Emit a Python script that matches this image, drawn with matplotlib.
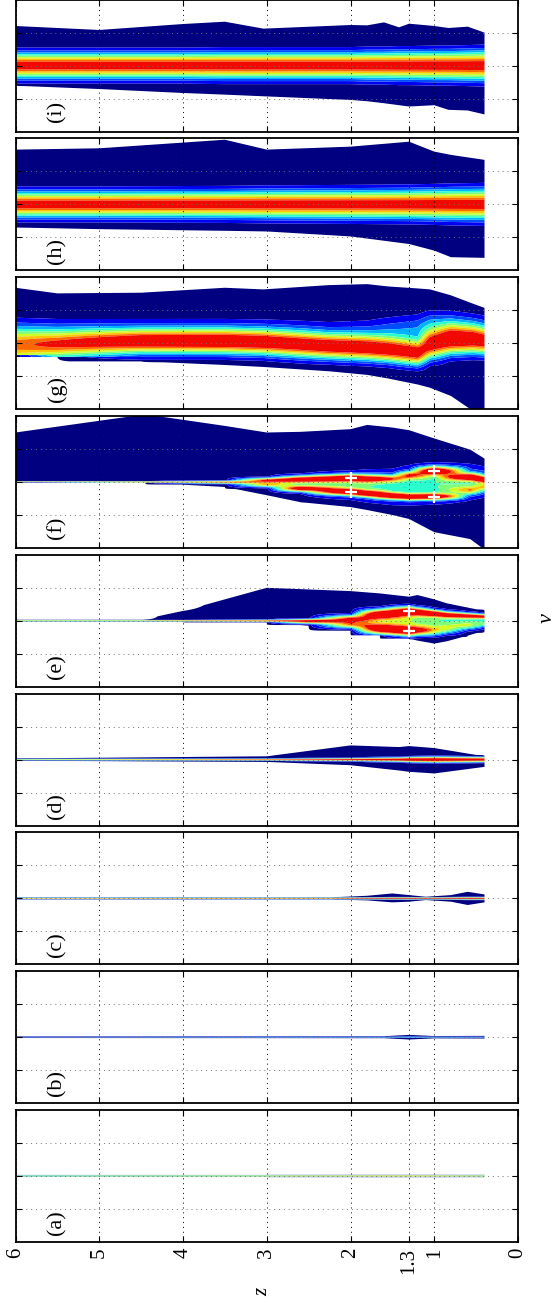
import numpy as np
import matplotlib
matplotlib.use("Agg")
import matplotlib.pyplot as plt

plt.rcParams["font.family"] = ["Liberation Serif", "DejaVu Serif"]

# ---------- z stations, envelope edges (nu) and ridge parameters per panel ----------
# each ridge: (centre, width, amplitude) at the stations
# panel (a)
za = [6.0, 3.0, 1.3, 0.4]
top_a = [0.03, 0.03, 0.035, 0.03]
bot_a = [-0.03, -0.03, -0.035, -0.03]
ridge_a = [([0.0, 0.0, 0.0, 0.0], [0.025, 0.025, 0.028, 0.025], [0.6, 0.7, 0.8, 0.7])]

# panel (b)
zb = [6.0, 1.6, 1.3, 1.0, 0.4]
top_b = [0.025, 0.03, 0.07, 0.035, 0.04]
bot_b = [-0.025, -0.03, -0.07, -0.035, -0.04]
ridge_b = [([0.0] * 5, [0.012, 0.014, 0.02, 0.015, 0.016], [0.3, 0.35, 0.4, 0.35, 0.35])]

# panel (c)
zc = [6.0, 2.2, 1.8, 1.5, 1.3, 1.1, 0.8, 0.6, 0.4]
top_c = [0.03, 0.035, 0.08, 0.15, 0.1, 0.05, 0.1, 0.2, 0.12]
bot_c = [-0.03, -0.035, -0.06, -0.12, -0.1, -0.05, -0.1, -0.2, -0.12]
ridge_c = [([0.0] * 9,
            [0.02, 0.022, 0.025, 0.03, 0.03, 0.025, 0.03, 0.035, 0.035],
            [0.8, 0.9, 1.0, 1.0, 1.0, 1.0, 1.0, 1.0, 1.0])]

# panel (d)
zd = [6.0, 3.0, 2.0, 1.42, 1.3, 1.0, 0.4]
top_d = [0.035, 0.1, 0.43, 0.38, 0.41, 0.35, 0.1]
bot_d = [-0.035, -0.07, -0.17, -0.33, -0.37, -0.42, -0.22]
ridge_d = [([0.0] * 7,
            [0.02, 0.025, 0.04, 0.06, 0.07, 0.08, 0.07],
            [0.6, 0.9, 1.0, 1.1, 1.2, 1.2, 1.1])]

# panel (e)
ze = [6.0, 4.5, 4.0, 3.0, 2.5, 2.0, 1.65, 1.3, 1.2, 1.0, 0.85, 0.6, 0.4]
top_e = [0.03, 0.03, 0.3, 1.0, 0.95, 0.9, 0.83, 0.73, 0.78, 0.65, 0.53, 0.4, 0.3]
bot_e = [-0.03, -0.03, -0.03, -0.05, -0.15, -0.3, -0.44, -0.54, -0.6, -0.69, -0.62, -0.45, -0.3]
ridge_e = [
    ([0.0, 0.0, 0.0, 0.0, 0.0, 0.05, 0.2, 0.29, 0.27, 0.22, 0.18, 0.15, 0.13],
     [0.02, 0.02, 0.02, 0.03, 0.05, 0.1, 0.13, 0.13, 0.11, 0.09, 0.08, 0.07, 0.06],
     [0.7, 0.7, 0.8, 0.9, 0.9, 0.8, 1.1, 1.2, 1.15, 1.1, 1.05, 1.0, 0.95]),
    ([0.0, 0.0, 0.0, 0.0, -0.05, -0.12, -0.25, -0.31, -0.3, -0.3, -0.25, -0.15, -0.1],
     [0.01, 0.01, 0.01, 0.02, 0.05, 0.1, 0.14, 0.14, 0.14, 0.15, 0.15, 0.12, 0.1],
     [0.0, 0.0, 0.0, 0.0, 0.4, 0.6, 1.1, 1.2, 0.9, 0.55, 0.45, 0.35, 0.25]),
    ([0.0] * 13,
     [0.05, 0.05, 0.05, 0.05, 0.1, 0.2, 0.3, 0.32, 0.32, 0.3, 0.28, 0.24, 0.2],
     [0.0, 0.0, 0.0, 0.0, 0.1, 0.3, 0.55, 0.6, 0.55, 0.5, 0.45, 0.4, 0.35]),
]

# panel (f)
zf = [6.0, 4.45, 3.5, 3.0, 2.6, 2.0, 1.8, 1.5, 1.3, 1.0, 0.57, 0.4]
top_f = [1.5, 2.05, 1.7, 1.5, 1.52, 1.6, 1.73, 1.65, 1.57, 1.32, 0.98, 0.71]
bot_f = [0.0, -0.02, -0.15, -0.4, -0.61, -0.76, -0.85, -1.0, -1.12, -1.52, -1.73, -2.05]
ridge_f = [
    ([0.0, 0.0, 0.0, 0.05, 0.08, 0.12, 0.1, 0.1, 0.2, 0.34, 0.15, 0.08],
     [0.02, 0.02, 0.04, 0.07, 0.09, 0.1, 0.1, 0.1, 0.11, 0.12, 0.1, 0.09],
     [0.8, 0.8, 0.6, 0.85, 1.0, 1.15, 1.0, 0.6, 0.7, 1.15, 1.1, 1.0]),
    ([0.0, 0.0, -0.02, -0.08, -0.2, -0.3, -0.35, -0.42, -0.45, -0.44, -0.25, -0.15],
     [0.01, 0.01, 0.04, 0.07, 0.08, 0.09, 0.09, 0.09, 0.09, 0.09, 0.12, 0.12],
     [0.0, 0.0, 0.3, 0.6, 0.95, 1.15, 1.15, 1.15, 1.1, 1.1, 0.5, 0.4]),
    ([0.0, 0.0, 0.0, -0.02, -0.05, -0.1, -0.12, -0.15, -0.1, -0.05, 0.0, 0.0],
     [0.05, 0.05, 0.05, 0.15, 0.25, 0.35, 0.4, 0.45, 0.5, 0.5, 0.45, 0.4],
     [0.0, 0.0, 0.0, 0.2, 0.4, 0.5, 0.5, 0.45, 0.45, 0.5, 0.45, 0.4]),
]

# panel (g)
zg = [6.0, 5.5, 4.5, 3.5, 3.04, 2.26, 1.8, 1.55, 1.2, 1.05, 0.8, 0.54, 0.4]
top_g = [1.68, 1.51, 1.53, 1.68, 1.63, 1.76, 1.79, 1.72, 1.66, 1.63, 1.45, 1.2, 1.07]
bot_g = [-0.36, -0.42, -0.55, -0.66, -0.72, -0.85, -0.96, -1.07, -1.25, -1.35, -1.6, -2.05, -2.05]
ridge_g = [
    ([-0.1, -0.05, 0.05, 0.05, 0.02, -0.1, -0.15, -0.2, -0.3, -0.05, 0.1, 0.1, 0.05],
     [0.5, 0.42, 0.36, 0.36, 0.36, 0.36, 0.36, 0.36, 0.36, 0.42, 0.42, 0.4, 0.38],
     [0.8, 0.88, 1.02, 1.05, 1.05, 1.05, 1.05, 1.05, 1.05, 1.05, 1.1, 1.05, 1.0]),
    ([0.35, 0.35, 0.35, 0.35, 0.35, 0.3, 0.3, 0.35, 0.4, 0.55, 0.55, 0.5, 0.45],
     [0.45, 0.45, 0.45, 0.45, 0.45, 0.45, 0.45, 0.45, 0.45, 0.42, 0.42, 0.42, 0.42],
     [0.15, 0.15, 0.15, 0.15, 0.15, 0.15, 0.2, 0.25, 0.3, 0.3, 0.25, 0.2, 0.2]),
]

# panel (h)
zh = [6.0, 5.0, 3.5, 3.0, 2.0, 1.3, 1.0, 0.8, 0.4]
top_h = [1.66, 1.7, 1.96, 1.66, 1.75, 1.9, 1.6, 1.5, 1.35]
bot_h = [-0.7, -0.75, -0.8, -0.82, -0.97, -1.2, -1.4, -1.6, -1.62]
ridge_h = [([0.0] * 9,
            [0.36, 0.36, 0.37, 0.38, 0.39, 0.4, 0.41, 0.42, 0.43],
            [1.0] * 9)]

# panel (i)
zi = [6.0, 5.0, 4.0, 3.5, 3.04, 2.0, 1.8, 1.6, 1.42, 1.3, 1.0, 0.83, 0.6, 0.4]
top_i = [1.2, 1.08, 1.26, 1.33, 1.12, 1.23, 1.22, 1.31, 1.16, 1.27, 1.2, 1.14, 1.18, 1.0]
bot_i = [-0.61, -0.71, -0.83, -0.88, -0.93, -1.04, -1.08, -1.14, -1.2, -1.24, -1.2, -1.34, -1.36, -1.48]
ridge_i = [([0.0] * 14,
            [0.36, 0.36, 0.36, 0.37, 0.37, 0.37, 0.38, 0.38, 0.39, 0.39, 0.4, 0.4, 0.41, 0.42],
            [1.0] * 14)]

panels = [
    ("(a)", za, top_a, bot_a, ridge_a, []),
    ("(b)", zb, top_b, bot_b, ridge_b, []),
    ("(c)", zc, top_c, bot_c, ridge_c, []),
    ("(d)", zd, top_d, bot_d, ridge_d, []),
    ("(e)", ze, top_e, bot_e, ridge_e, [(1.3, 0.29), (1.3, -0.31)]),
    ("(f)", zf, top_f, bot_f, ridge_f, [(2.0, 0.12), (2.0, -0.3), (1.0, 0.34), (1.0, -0.44)]),
    ("(g)", zg, top_g, bot_g, ridge_g, []),
    ("(h)", zh, top_h, bot_h, ridge_h, []),
    ("(i)", zi, top_i, bot_i, ridge_i, []),
]

z_ticks = [6, 5, 4, 3, 2, 1.3, 1, 0]
z_ticklabels = ["6", "5", "4", "3", "2", "1.3", "1", "0"]

levels = [0.05, 0.1, 0.2, 0.3, 0.4, 0.5, 0.6, 0.7, 0.8, 0.9, 10.0]
band_colors = plt.cm.jet(np.linspace(0.0, 0.9, len(levels) - 1))

nu = np.linspace(-2.1, 2.1, 2101)


def build_field(top, bot, ridges):
    top = np.asarray(top)[:, None]
    bot = np.asarray(bot)[:, None]
    s = np.minimum(top - nu[None, :], nu[None, :] - bot)   # signed distance to envelope edge
    base = np.minimum(0.05 + 0.02 * s, 0.09)
    g = np.zeros_like(s)
    for c, w, a in ridges:
        c = np.asarray(c)[:, None]
        w = np.asarray(w)[:, None]
        a = np.asarray(a)[:, None]
        g += a * np.exp(-((nu[None, :] - c) / w) ** 2)
    return np.where(s >= 0, np.maximum(g, base), base)


# ---------- figure: nine stacked panels, z runs right to left ----------
fig = plt.figure(figsize=(5.54, 13.10), dpi=100)
W, H = 554.0, 1310.0

for k, (tag, zs, top, bot, ridges, marks) in enumerate(panels):
    ax = fig.add_axes([15.5 / W, (68 + 138.8 * k) / H, 502.5 / W, 132 / H])
    F = build_field(top, bot, ridges)
    ax.contourf(zs, nu, F.T, levels=levels, colors=band_colors, antialiased=True)
    for zm, vm in marks:
        ax.plot(zm, vm, marker="+", color="white", markersize=9, mew=1.6, zorder=4)

    ax.set_xlim(6, 0)
    ax.set_ylim(-2, 2)
    ax.set_xticks(z_ticks)
    ax.set_yticks([-1, 0, 1])
    ax.set_yticklabels([])
    if k == 0:
        ax.set_xticklabels(z_ticklabels, rotation=90, fontsize=15,
                           family="Liberation Serif")
    else:
        ax.set_xticklabels([])
    ax.tick_params(direction="in", length=4, width=0.8, top=True, right=True, pad=4)
    ax.set_axisbelow(False)
    ax.grid(True, axis="x", linestyle=(0, (1, 4)), color="black", linewidth=0.7)
    ax.grid(True, axis="y", linestyle=(0, (1, 4)), color="0.45", linewidth=0.7)
    for sp in ax.spines.values():
        sp.set_linewidth(1.3)
    ax.text(0.082, 0.15, tag, transform=ax.transAxes, rotation=90,
            ha="center", va="center", fontsize=16)

fig.text(263 / W, 1 - 1292 / H, "z", rotation=90, fontsize=15, style="italic",
         ha="center", va="center")
fig.text(547 / W, 1 - 618 / H, "ν", rotation=90, fontsize=16, style="italic",
         ha="center", va="center")

fig.savefig("out.png", dpi=100, facecolor="white")
